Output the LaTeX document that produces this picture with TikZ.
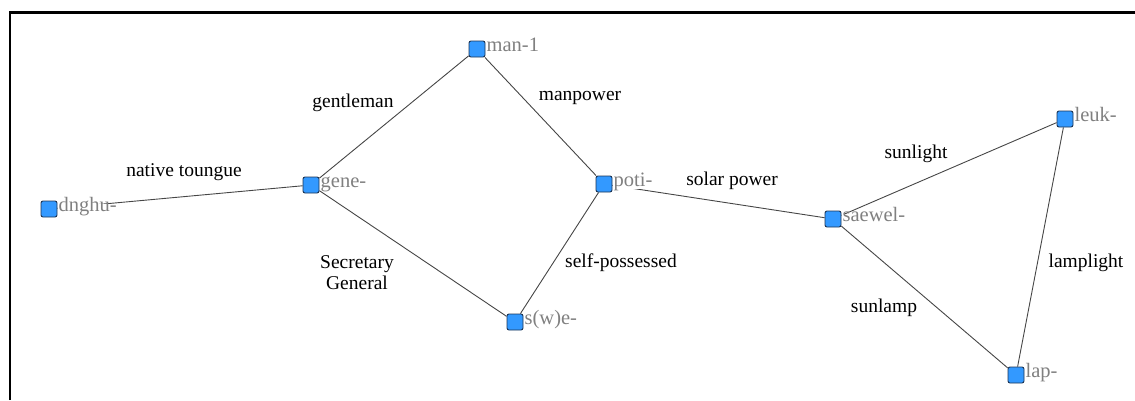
\documentclass[tikz,border=0pt]{standalone}
\usepackage{fontspec}
\setmainfont{Liberation Serif}
\newfontfamily\labelserif{Liberation Serif}
\usetikzlibrary{backgrounds}
\definecolor{vfill}{RGB}{51,153,255}
\definecolor{vedge}{RGB}{28,52,84}
\definecolor{vtext}{RGB}{128,128,128}
\definecolor{linkc}{RGB}{70,70,70}
\tikzset{
  vert/.style={rectangle, rounded corners=2pt, minimum size=16pt, inner sep=0pt,
    fill=vfill, draw=vedge, line width=0.9pt},
  vlab/.style={anchor=west, fill=white, inner xsep=1pt, inner ysep=0.5pt,
    text height=0.78em, text depth=0.2em, text=vtext,
    font=\labelserif\fontsize{20.5}{22}\selectfont},
  link/.style={draw=linkc, line width=0.9pt},
  elab/.style={font=\labelserif\fontsize{19.5}{21}\selectfont, align=center, inner sep=0pt}
}
\begin{document}
\begin{tikzpicture}[x=1pt, y=-1pt]
\useasboundingbox (0,0) rectangle (1135,400);
% frame edges
\draw[line width=2.5pt] (10,400) -- (10,12.5) -- (1135,12.5);

% vertices
\node[vert] (dnghu)  at (49,209)   {};
\node[vert] (gene)   at (311,185)  {};
\node[vert] (man)    at (477,49)   {};
\node[vert] (poti)   at (604,184)  {};
\node[vert] (swe)    at (515,322)  {};
\node[vert] (saewel) at (833,219)  {};
\node[vert] (leuk)   at (1065,119) {};
\node[vert] (lap)    at (1016,375) {};

% vertex names
\node[vlab] (dnghuL)  at (dnghu.east)  {dnghu-};
\node[vlab] (geneL)   at (gene.east)   {gene-};
\node[vlab] (manL)    at (man.east)    {man-1};
\node[vlab] (potiL)   at (poti.east)   {poti-};
\node[vlab] (sweL)    at (swe.east)    {s(w)e-};
\node[vlab] (saewelL) at (saewel.east) {saewel-};
\node[vlab] (leukL)   at (leuk.east)   {leuk-};
\node[vlab] (lapL)    at (lap.east)    {lap-};

% links
\begin{pgfonlayer}{background}
\draw[link] (dnghu) -- (gene);
\draw[link] (gene) -- (man);
\draw[link] (man) -- (poti);
\draw[link] (gene) -- (swe);
\draw[link] (poti) -- (swe);
\draw[link] (poti) -- (saewel);
\draw[link] (saewel) -- (leuk);
\draw[link] (saewel) -- (lap);
\draw[link] (leuk) -- (lap);
\end{pgfonlayer}

% link names
\node[elab] (l1) at (184,172) {native toungue};
\node[elab] (l2) at (353,103) {gentleman};
\node[elab] (l3) at (580,98)  {manpower};
\node[elab] (l4) at (357,273) {Secretary\\General};
\node[elab] (l5) at (621,263) {self-possessed};
\node[elab] (l6) at (732,181) {solar power};
\node[elab] (l7) at (916,154) {sunlight};
\node[elab] (l8) at (884,308) {sunlamp};
\node[elab] (l9) at (1086,263) {lamplight};
\end{tikzpicture}
\end{document}
